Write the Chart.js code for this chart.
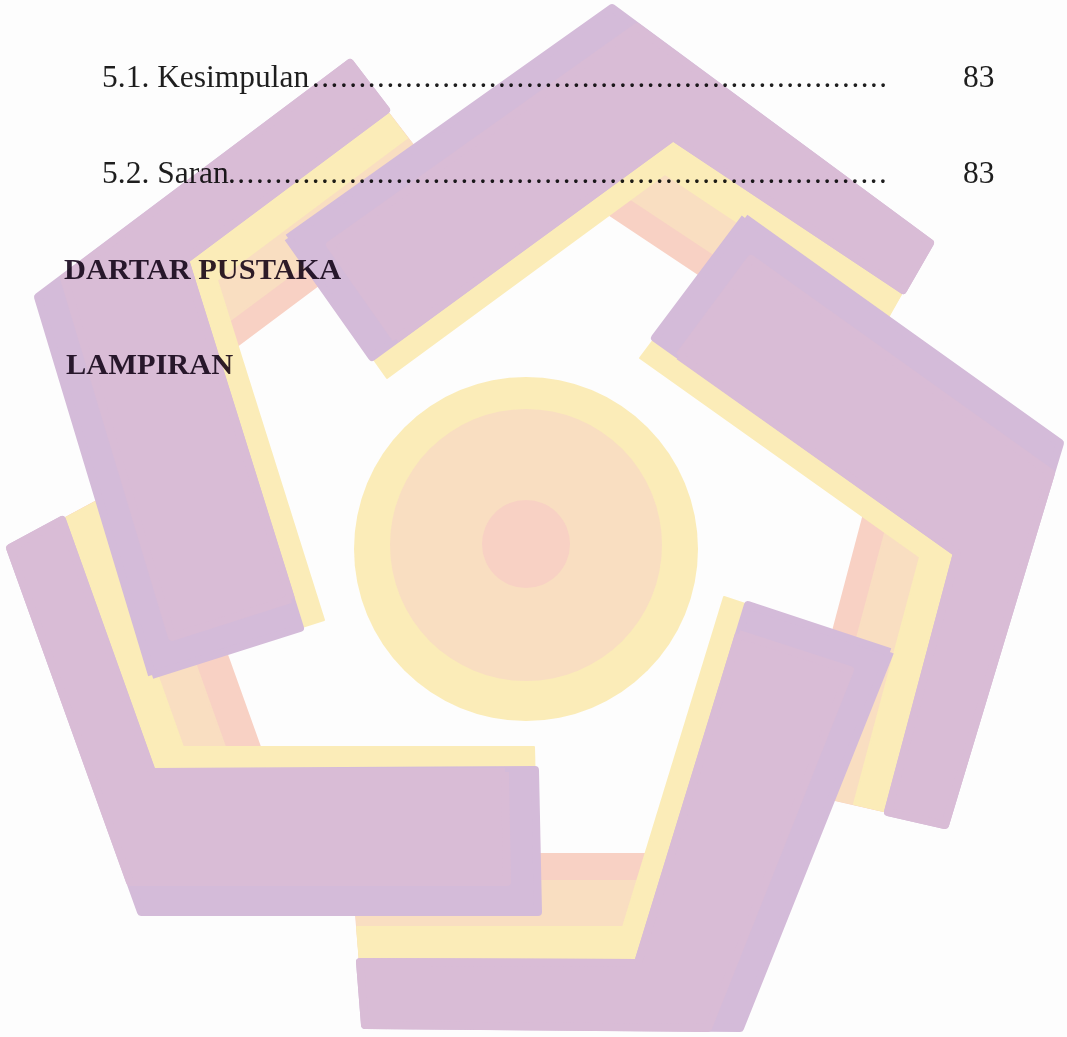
<!DOCTYPE html>
<html>
<head>
<meta charset="utf-8">
<script src="https://cdn.jsdelivr.net/npm/chart.js@4"></script>
<style>
  html, body { margin: 0; padding: 0; background: #fdfdfd; }
  #page { position: relative; width: 1067px; height: 1037px; overflow: hidden; }
  #chartBox { position: absolute; left: 0; top: 0; width: 1067px; height: 1037px; }
  .t { position: absolute; white-space: nowrap; line-height: 1; mix-blend-mode: multiply;
       font-family: "Liberation Serif", "Times New Roman", serif; }
  .reg { font-size: 31.5px; color: #1e1e1e; }
  .bold { font-size: 30.4px; font-weight: bold; color: #2e1f33; }
  .dots { font-size: 31px; color: #1e1e1e; letter-spacing: 1.55px; overflow: hidden; }
</style>
</head>
<body>
<div id="page">
  <div id="chartBox"><canvas id="logo"></canvas></div>
  <div class="t reg" style="left:102px; top:61px;">5.1. Kesimpulan</div>
  <div class="t dots" id="dots1" style="left:312px; top:61px; width:578px;"></div>
  <div class="t reg" style="left:963px; top:61px;">83</div>
  <div class="t reg" style="left:102px; top:157px;">5.2. Saran</div>
  <div class="t dots" id="dots2" style="left:228px; top:157px; width:660px;"></div>
  <div class="t reg" style="left:963px; top:157px;">83</div>
  <div class="t bold" style="left:64px; top:254px;">DARTAR PUSTAKA</div>
  <div class="t bold" style="left:66px; top:349px;">LAMPIRAN</div>
</div>
<script>
"use strict";

// ── Logo shapes (page coordinates) ─────────────────────────────────────────
// purple arms: thick end, outer corner, thin end, inner corner
const armA = [[288,238],[612,8],[930,243],[903,290],[673,137],[372,357]];
const armB = [[152,675],[38,297],[350,63],[386,110],[185,260],[300,628]];
const armC = [[745,218],[1060,443],[945,825],[888,812],[957,553],[655,338]];
const armD = [[890,652],[740,1028],[365,1025],[360,962],[638,963],[748,605]];
const armE = [[10,548],[141,912],[538,912],[535,770],[152,772],[62,520]];

// lighter inner panel of each arm (the lavender rim stays round it)
const panelA = [[396,339],[330,245],[637,27],[930,243],[903,290],[673,137]];
const panelB = [[291,599],[172,637],[64,278],[350,63],[386,110],[185,260]];
const panelC = [[679,356],[751,259],[1051,473],[945,825],[888,812],[957,553]];
const panelD = [[739,634],[850,670],[708,1028],[365,1025],[360,962],[638,963]];
const panelE = [[505,772],[507,882],[130,882],[10,548],[62,520],[152,772]];

// yellow layer under each arm
const yellowA = [[288,238],[612,8],[930,243],[886,321],[665,174],[387,378]];
const yellowB = [[152,675],[38,297],[350,63],[407,138],[217,280],[324,620]];
const yellowC = [[745,218],[1060,443],[945,825],[854,804],[920,557],[640,358]];
const yellowD = [[890,652],[740,1028],[365,1025],[357,927],[623,927],[724,597]];
const yellowE = [[10,548],[141,912],[538,912],[534,747],[183,747],[96,502]];

// peach strip along the thin leg
const peachA = [[673,137],[903,290],[866,355],[608,184]];
const peachB = [[185,260],[386,110],[432,170],[209,336]];
const peachC = [[957,553],[888,812],[815,795],[892,507]];
const peachD = [[638,963],[360,962],[354,881],[663,881]];
const peachE = [[152,772],[62,520],[131,483],[234,772]];

// pink strip, innermost
const pinkA = [[673,137],[903,290],[853,377],[587,200]];
const pinkB = [[185,260],[386,110],[447,189],[217,361]];
const pinkC = [[957,553],[888,812],[791,790],[870,491]];
const pinkD = [[638,963],[360,962],[351,854],[672,854]];
const pinkE = [[152,772],[62,520],[160,467],[269,772]];

// centre disc rings
const ringOuterCentre = [[526,549]];
const ringMidCentre   = [[526,545]];
const ringCoreCentre  = [[526,544]];

// ── Colours ─────────────────────────────────────────────────────────────────
const LAVENDER = "#d4bbd9";
const PURPLE   = "#d9bcd6";
const YELLOW   = "#fbecb8";
const PEACH    = "#f9dec1";
const PINK     = "#f8d1c4";

function polygon(points, color, order, width = 2) {
  const data = points.map(p => ({ x: p[0], y: p[1] }));
  data.push({ x: points[0][0], y: points[0][1] });
  return {
    data,
    showLine: true,
    fill: "shape",
    backgroundColor: color,
    borderColor: color,
    borderWidth: width,
    borderJoinStyle: "round",
    pointRadius: 0,
    pointHoverRadius: 0,
    order,
  };
}

function disc(centre, color, radius, order) {
  return {
    data: centre.map(p => ({ x: p[0], y: p[1] })),
    showLine: false,
    pointRadius: radius,
    pointHoverRadius: radius,
    pointBackgroundColor: color,
    pointBorderWidth: 0,
    pointBorderColor: color,
    order,
  };
}

const datasets = [
  disc(ringOuterCentre, YELLOW, 172, 9),
  disc(ringMidCentre, PEACH, 136, 8),
  disc(ringCoreCentre, PINK, 44, 7),
  ...[pinkA, pinkB, pinkC, pinkD, pinkE].map(p => polygon(p, PINK, 6)),
  ...[peachA, peachB, peachC, peachD, peachE].map(p => polygon(p, PEACH, 5)),
  ...[yellowA, yellowB, yellowC, yellowD, yellowE].map(p => polygon(p, YELLOW, 4)),
  ...[armA, armB, armC, armD, armE].map(p => polygon(p, LAVENDER, 2, 8)),
  ...[panelA, panelB, panelC, panelD, panelE].map(p => polygon(p, PURPLE, 1, 8)),
];

new Chart(document.getElementById("logo"), {
  type: "scatter",
  data: { datasets },
  options: {
    responsive: true,
    maintainAspectRatio: false,
    animation: false,
    events: [],
    layout: { padding: 0, autoPadding: false },
    plugins: { legend: { display: false }, tooltip: { enabled: false } },
    scales: {
      x: { type: "linear", min: 0, max: 1067, display: false },
      y: { type: "linear", min: 0, max: 1037, reverse: true, display: false },
    },
  },
});

// ── Leader dots ─────────────────────────────────────────────────────────────
document.getElementById("dots1").textContent = ".".repeat(62);
document.getElementById("dots2").textContent = ".".repeat(71);
</script>
</body>
</html>
